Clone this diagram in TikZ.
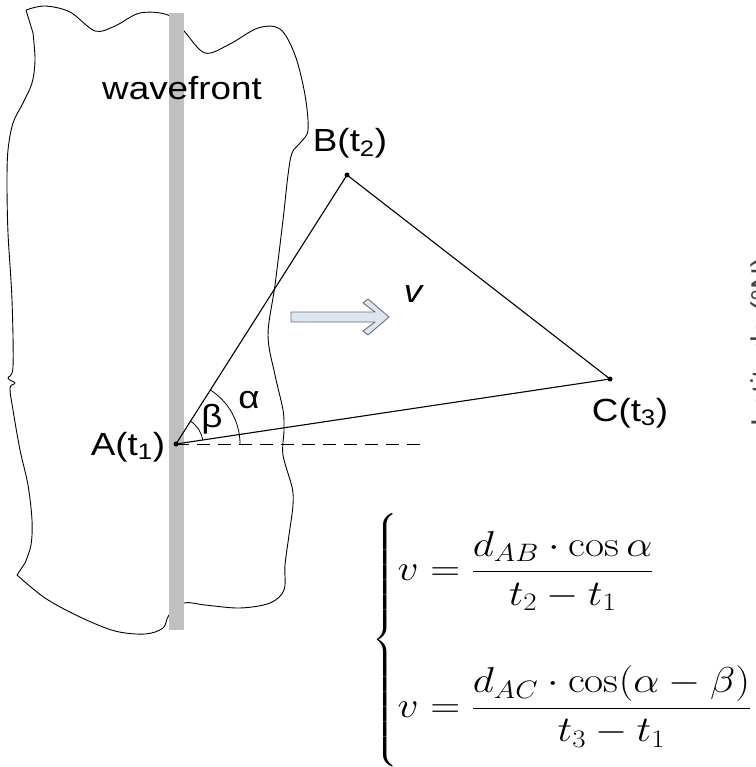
\RequirePackage{fix-cm}
\documentclass[tikz,border=0pt]{standalone}
\usepackage{amsmath}
\usepackage{fontspec}
\newfontfamily\lblfont[FakeStretch=1.15]{Liberation Sans}
\newfontfamily\latfont{Liberation Sans}
\definecolor{barGray}{RGB}{192,192,192}
\definecolor{arrowFill}{RGB}{222,229,239}
\definecolor{arrowEdge}{RGB}{105,110,118}
\tikzset{
  outline/.style={black, line width=0.9pt, line join=round},
  edge/.style={black, line width=1.1pt},
  dot/.style={circle, fill=black, minimum size=5pt, inner sep=0pt},
  lbl/.style={font=\lblfont\fontsize{32}{38}\selectfont, inner sep=0pt,
    anchor=base},
  anglearc/.style={black, line width=0.8pt},
  hollowarrow/.style={fill=arrowFill, draw=arrowEdge, line width=0.9pt,
    line join=round}
}

\begin{document}
\begin{tikzpicture}[x=1pt,y=-1pt]
  \useasboundingbox (0,0) rectangle (755,767);
  \clip (0,0) rectangle (755,767);

  % Wavefront region and front line
  \draw[outline] plot[smooth,tension=0.55] coordinates {(26,10) (45,6) (70,12)
      (95,31) (115,26) (140,13) (168,15) (184,31) (205,53) (230,44) (258,28)
      (280,29) (295,55) (305,95) (308,130) (300,143) (292,153) (288,175)
      (283,220) (275,285) (268,335) (275,375) (283,410) (284,430) (283,455)
      (292,487) (293,505) (289,535) (285,565) (284,590) (270,603) (240,608)
      (205,605) (184,603) (169,615) (163,628) (145,634) (115,631) (80,617)
      (45,598) (17,575)}
    -- plot[smooth,tension=0.55] coordinates {(25,563) (31,545) (32,520)
      (28,485) (20,450) (13,410) (10,388) (15,383) (8,378) (13,367) (12,300)
      (8,233) (7,183) (8,150) (13,123) (23,103) (32,83) (35,60) (33,33)}
    -- cycle;
  \fill[barGray] (169,13) rectangle (184,630);
  \node[lbl] (wavelbl) at (182,100) {wavefront};

  % Stations and triangle
  \node[dot] (A) at (176,444) {};
  \node[dot] (B) at (347,175) {};
  \node[dot] (C) at (610,379) {};
  \coordinate (Aend) at (423,444);
  \draw[black, line width=0.8pt, dash pattern=on 13pt off 8pt]
    (A.center) -- (Aend);
  \draw[edge] (A.center) -- (B.center) -- (C.center) -- cycle;
  \node[lbl] (Albl) at (128,455) {A(t\textsubscript{1})};
  \node[lbl] (Blbl) at (350,152) {B(t\textsubscript{2})};
  \node[lbl] (Clbl) at (630,421) {C(t\textsubscript{3})};

  % Angles
  \draw[anglearc] (A.center) ++(-8.65:27) arc[start angle=-8.65,
    end angle=-57.55, radius=27];
  \draw[anglearc] (A.center) ++(0:64) arc[start angle=0,
    end angle=-57.55, radius=64];
  \node[lbl] (betalbl) at (212,427) {β};
  \node[lbl] (alphalbl) at (249,408) {α};

  % Propagation direction
  \draw[hollowarrow] (291,312) -- (375,312) -- (363,303) -- (368,299)
    -- (389,317) -- (368,335) -- (363,331) -- (375,322) -- (291,322) -- cycle;
  \node[lbl,font=\lblfont\itshape\fontsize{32}{38}\selectfont] (vlbl)
    at (413,302) {v};

  % Velocity equations
  \node[anchor=west, inner sep=0pt, xscale=1.15, transform shape,
    font=\fontsize{36}{43}\selectfont] (eqs)
    at (372,640) {$\left\{\begin{array}{@{}l@{}}
      \rule{0pt}{67pt}v=\dfrac{d_{AB}\cdot\cos\alpha}{t_2-t_1}\\[72pt]
      \rule[-49pt]{0pt}{49pt}v=\dfrac{d_{AC}\cdot\cos(\alpha-\beta)}{t_3-t_1}
    \end{array}\right.$};

  % Cut axis title at the right edge
  \node[font=\latfont\fontsize{30}{36}\selectfont, text=black!75, rotate=90,
    anchor=north, inner sep=0pt] (latlbl) at (751,342) {Latitude (°N)};
\end{tikzpicture}
\end{document}
